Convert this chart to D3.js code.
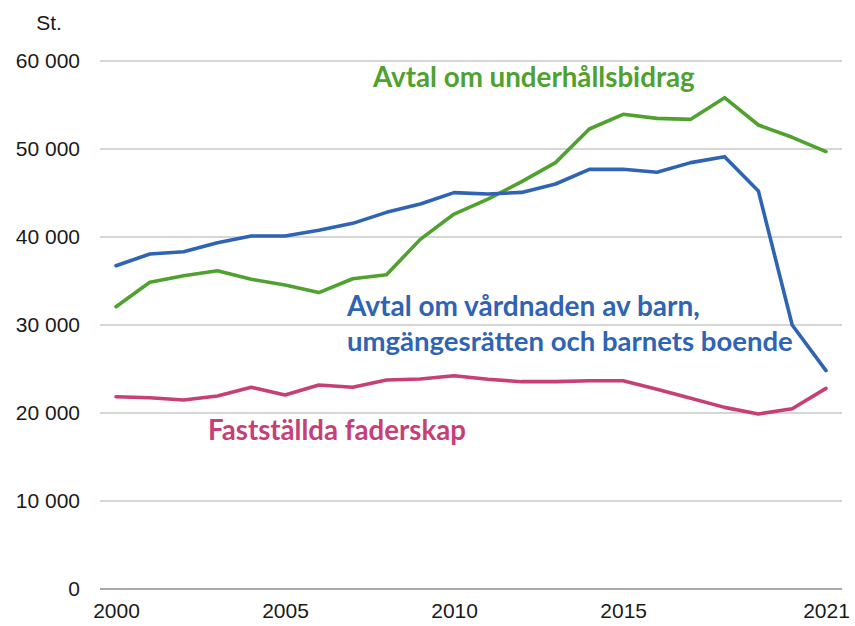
<!DOCTYPE html>
<html>
<head>
<meta charset="utf-8">
<script src="https://cdn.jsdelivr.net/npm/d3@7"></script>
<style>
  body { margin: 0; background: #fff; }
  svg { display: block; }
</style>
</head>
<body>
<div class="chart"></div>
<script>
// data
var years = d3.range(2000, 2022);
var underhall = [32080, 34850, 35600, 36170, 35190, 34540, 33680, 35260, 35720, 39730, 42610,
                 44300, 46290, 48450, 52270, 53940, 53480, 53370, 55830, 52730, 51330, 49700];
var vardnad = [36740, 38070, 38330, 39350, 40110, 40110, 40760, 41550, 42800, 43750, 45040,
               44890, 45070, 46020, 47690, 47690, 47350, 48450, 49130, 45230, 30000, 24810];
var faderskap = [21850, 21740, 21480, 21930, 22920, 22050, 23180, 22920, 23750, 23860, 24240,
                 23830, 23560, 23560, 23670, 23670, 22690, 21670, 20640, 19890, 20490, 22800];
var yTicks = [0, 10000, 20000, 30000, 40000, 50000, 60000];
var xTicks = [2000, 2005, 2010, 2015, 2021];

const width = 855, height = 626;
const margin = ({ top: 61, right: 13, bottom: 37, left: 100 });

var svg = d3.select(".chart").append("svg")
    .attr("width", width)
    .attr("height", height);

var x = d3.scaleLinear()
    .domain([2000, 2021])
    .range([116, 826]);

var y = d3.scaleLinear()
    .domain([0, 60000])
    .range([height - margin.bottom, margin.top]);

var fmt = d => d3.format(",")(d).replace(/,/g, "\u00a0");

// gridlines
svg.append("g")
    .selectAll("line")
    .data(yTicks.filter(d => d > 0))
    .join("line")
    .attr("x1", margin.left)
    .attr("x2", width - margin.right)
    .attr("y1", d => y(d))
    .attr("y2", d => y(d))
    .attr("stroke", "#c8c8c8")
    .attr("stroke-width", 1.3);

// y axis labels
var yAxis = svg.append("g")
    .attr("transform", `translate(${margin.left - 20},0)`)
    .call(d3.axisLeft(y).tickValues(yTicks).tickFormat(fmt).tickSize(0).tickPadding(0));
yAxis.select(".domain").remove();
yAxis.selectAll("text")
    .style("font-family", "'Liberation Sans', Arial, sans-serif")
    .style("font-size", "21px")
    .attr("fill", "#1a1a1a");

svg.append("text")
    .attr("x", 49)
    .attr("y", 30)
    .attr("text-anchor", "middle")
    .style("font-family", "'Liberation Sans', Arial, sans-serif")
    .style("font-size", "21px")
    .attr("fill", "#1a1a1a")
    .text("St.");

// x axis
var xAxis = svg.append("g")
    .attr("transform", `translate(0,${y(0)})`)
    .call(d3.axisBottom(x).tickValues(xTicks).tickFormat(d3.format("d")).tickSize(0).tickPadding(14));
xAxis.select(".domain").remove();
xAxis.append("line")
    .attr("x1", margin.left)
    .attr("x2", width - margin.right)
    .attr("stroke", "#8c8c8c")
    .attr("stroke-width", 1.5);
xAxis.selectAll("text")
    .style("font-family", "'Liberation Sans', Arial, sans-serif")
    .style("font-size", "21px")
    .attr("fill", "#1a1a1a");

// lines
var series = [
    { name: "faderskap", values: faderskap, color: "#c63f75" },
    { name: "underhall", values: underhall, color: "#50a12f" },
    { name: "vardnad", values: vardnad, color: "#2f63b3" }
];

var line = d3.line()
    .x((d, i) => x(years[i]))
    .y(d => y(d));

svg.append("g")
    .selectAll("path")
    .data(series)
    .join("path")
    .attr("d", d => line(d.values))
    .attr("fill", "none")
    .attr("stroke", d => d.color)
    .attr("stroke-width", 3.6)
    .attr("stroke-linejoin", "round")
    .attr("stroke-linecap", "round");

// labels
var labels = [
    { text: "Avtal om underhållsbidrag", x: 373, y: 87, w: 322, color: "#50a12f" },
    { text: "Avtal om vårdnaden av barn,", x: 347, y: 316, w: 353, color: "#2f63b3" },
    { text: "umgängesrätten och barnets boende", x: 347, y: 351, w: 446, color: "#2f63b3" },
    { text: "Fastställda faderskap", x: 208, y: 440, w: 258, color: "#c63f75" }
];

svg.append("g")
    .selectAll("text")
    .data(labels)
    .join("text")
    .attr("x", d => d.x)
    .attr("y", d => d.y)
    .attr("font-family", "Lato, 'Open Sans', sans-serif")
    .attr("font-weight", "bold")
    .attr("font-size", 22)
    .attr("fill", d => d.color)
    .text(d => d.text)
    .each(function(d) {
        var w = this.getComputedTextLength();
        d3.select(this).attr("font-size", 22 * d.w / w);
    });
</script>
</body>
</html>
